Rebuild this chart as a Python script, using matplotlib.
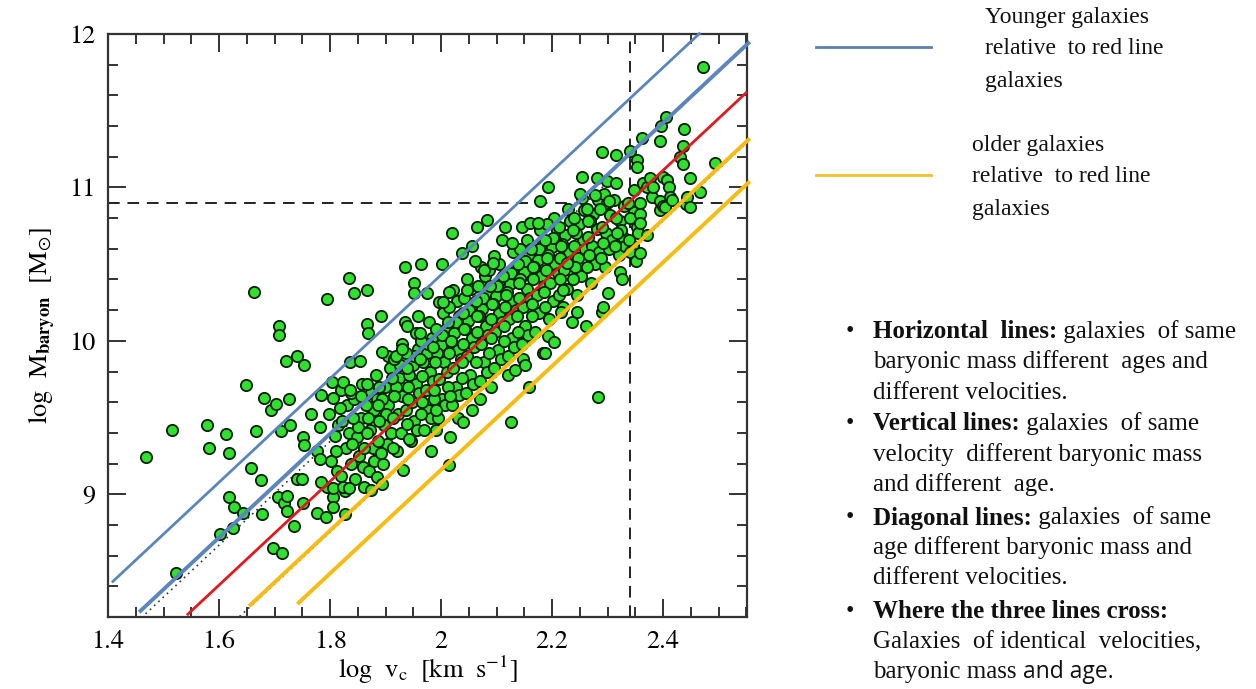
import matplotlib.pyplot as plt
from matplotlib.lines import Line2D
from matplotlib.ticker import MultipleLocator

plt.rcParams['mathtext.fontset'] = 'stix'
plt.rcParams['font.family'] = 'Liberation Serif'

# --- dados: log v_c , log M_baryon ---
# nuvem densa (estimada a olho)
core_pts = [
    (1.795, 9.05), (1.802, 9.22), (1.808, 9.38), (1.798, 9.52), (1.812, 9.15), (1.805, 9.63), (1.815, 9.45),
    (1.820, 9.12), (1.828, 9.30), (1.822, 9.48), (1.831, 9.58), (1.826, 9.02), (1.834, 9.40), (1.819, 9.68),
    (1.845, 9.10), (1.852, 9.25), (1.848, 9.37), (1.856, 9.50), (1.843, 9.62), (1.858, 9.72), (1.851, 9.44), (1.860, 9.18),
    (1.870, 9.15), (1.877, 9.30), (1.872, 9.42), (1.880, 9.55), (1.874, 9.66), (1.882, 9.78), (1.868, 9.50), (1.879, 9.22), (1.885, 9.62),
    (1.895, 9.20), (1.902, 9.33), (1.897, 9.45), (1.905, 9.58), (1.899, 9.70), (1.908, 9.82), (1.893, 9.62), (1.904, 9.90), (1.910, 9.40), (1.900, 9.52),
    (1.920, 9.28), (1.927, 9.40), (1.922, 9.52), (1.930, 9.64), (1.924, 9.76), (1.933, 9.88), (1.918, 9.70), (1.929, 9.98), (1.936, 9.55), (1.926, 9.84),
    (1.945, 9.35), (1.952, 9.48), (1.947, 9.60), (1.955, 9.72), (1.949, 9.84), (1.958, 9.95), (1.943, 9.78), (1.954, 10.05), (1.960, 9.66), (1.951, 9.90), (1.957, 9.42),
    (1.970, 9.42), (1.977, 9.55), (1.972, 9.68), (1.980, 9.80), (1.974, 9.92), (1.983, 10.02), (1.968, 9.86), (1.979, 10.12), (1.985, 9.74), (1.976, 9.98), (1.982, 9.50),
    (1.995, 9.50), (2.002, 9.62), (1.997, 9.75), (2.005, 9.86), (1.999, 9.97), (2.008, 10.08), (1.993, 9.92), (2.004, 10.18), (2.010, 9.80), (2.001, 10.04), (2.007, 9.58), (1.996, 10.25),
    (2.020, 9.58), (2.027, 9.70), (2.022, 9.82), (2.030, 9.94), (2.024, 10.05), (2.033, 10.16), (2.018, 10.00), (2.029, 10.26), (2.035, 9.88), (2.026, 10.12), (2.032, 9.65), (2.021, 10.33),
    (2.045, 9.66), (2.052, 9.78), (2.047, 9.90), (2.055, 10.02), (2.049, 10.13), (2.058, 10.24), (2.043, 10.08), (2.054, 10.34), (2.060, 9.96), (2.051, 10.20), (2.057, 9.72), (2.046, 10.40),
    (2.070, 9.74), (2.077, 9.86), (2.072, 9.98), (2.080, 10.10), (2.074, 10.21), (2.083, 10.32), (2.068, 10.16), (2.079, 10.42), (2.085, 10.04), (2.076, 10.28), (2.082, 9.80), (2.071, 10.48),
    (2.095, 9.82), (2.102, 9.94), (2.097, 10.06), (2.105, 10.18), (2.099, 10.29), (2.108, 10.40), (2.093, 10.24), (2.104, 10.50), (2.110, 10.12), (2.101, 10.36), (2.107, 9.88), (2.096, 10.55),
    (2.120, 9.90), (2.127, 10.02), (2.122, 10.14), (2.130, 10.26), (2.124, 10.37), (2.133, 10.48), (2.118, 10.32), (2.129, 10.58), (2.135, 10.20), (2.126, 10.44), (2.132, 9.96),
    (2.145, 9.98), (2.152, 10.10), (2.147, 10.22), (2.155, 10.34), (2.149, 10.45), (2.158, 10.56), (2.143, 10.40), (2.154, 10.66), (2.160, 10.28), (2.151, 10.52), (2.157, 10.04),
    (2.170, 10.06), (2.177, 10.18), (2.172, 10.30), (2.180, 10.42), (2.174, 10.53), (2.183, 10.64), (2.168, 10.48), (2.179, 10.72), (2.185, 10.36), (2.176, 10.60),
    (2.195, 10.14), (2.202, 10.26), (2.197, 10.38), (2.205, 10.50), (2.199, 10.61), (2.208, 10.72), (2.193, 10.56), (2.204, 10.80), (2.210, 10.44), (2.201, 10.67),
    (2.220, 10.22), (2.227, 10.34), (2.222, 10.46), (2.230, 10.58), (2.224, 10.69), (2.233, 10.78), (2.218, 10.63), (2.229, 10.86), (2.235, 10.52),
    (2.245, 10.30), (2.252, 10.42), (2.247, 10.54), (2.255, 10.66), (2.249, 10.76), (2.258, 10.85), (2.243, 10.70), (2.254, 10.93), (2.260, 10.60),
    (2.270, 10.38), (2.277, 10.50), (2.272, 10.62), (2.280, 10.73), (2.274, 10.83), (2.283, 10.92), (2.268, 10.78), (2.285, 10.58),
    (2.295, 10.48), (2.302, 10.60), (2.297, 10.70), (2.305, 10.82), (2.299, 10.90), (2.308, 10.66), (2.293, 10.96),
    (2.320, 10.56), (2.327, 10.68), (2.322, 10.78), (2.330, 10.88), (2.324, 10.72), (2.332, 10.62),
    (2.345, 10.62), (2.352, 10.74), (2.347, 10.84), (2.355, 10.70), (2.358, 10.90),
]

# mais pontos da nuvem, entre as colunas acima
core_pts_2 = [
    (1.811, 9.28), (1.817, 9.56), (1.806, 8.98),
    (1.838, 9.20), (1.841, 9.50), (1.839, 9.33), (1.837, 9.66),
    (1.862, 9.30), (1.864, 9.58), (1.861, 9.05), (1.866, 9.40),
    (1.887, 9.35), (1.889, 9.48), (1.888, 9.70), (1.891, 9.27), (1.886, 9.58),
    (1.913, 9.50), (1.915, 9.64), (1.912, 9.76), (1.914, 9.30), (1.916, 9.88),
    (1.938, 9.46), (1.940, 9.62), (1.939, 9.82), (1.941, 9.70), (1.937, 9.92), (1.942, 9.36),
    (1.963, 9.52), (1.965, 9.77), (1.962, 9.88), (1.966, 9.60), (1.964, 10.00),
    (1.987, 9.62), (1.989, 9.86), (1.988, 9.68), (1.991, 10.08), (1.986, 9.96), (1.990, 9.55),
    (2.013, 9.70), (2.015, 9.92), (2.012, 10.12), (2.016, 9.64), (2.014, 10.22),
    (2.038, 9.76), (2.040, 9.98), (2.039, 10.18), (2.041, 10.28), (2.037, 9.86), (2.042, 10.08),
    (2.063, 9.86), (2.065, 10.06), (2.062, 10.26), (2.066, 10.36), (2.064, 10.16),
    (2.087, 9.92), (2.089, 10.14), (2.088, 10.36), (2.091, 10.24), (2.086, 10.46), (2.090, 10.02),
    (2.113, 10.00), (2.115, 10.22), (2.112, 10.42), (2.116, 10.30), (2.114, 10.10),
    (2.138, 10.06), (2.140, 10.28), (2.139, 10.50), (2.141, 10.38), (2.137, 10.16), (2.142, 10.60),
    (2.163, 10.16), (2.165, 10.40), (2.162, 10.60), (2.166, 10.48), (2.164, 10.24),
    (2.187, 10.22), (2.189, 10.46), (2.188, 10.66), (2.191, 10.54), (2.186, 10.32), (2.190, 10.76),
    (2.213, 10.30), (2.215, 10.54), (2.212, 10.74), (2.216, 10.62), (2.214, 10.40),
    (2.238, 10.40), (2.240, 10.62), (2.239, 10.80), (2.241, 10.48), (2.237, 10.72),
    (2.263, 10.48), (2.265, 10.68), (2.262, 10.86), (2.266, 10.56), (2.264, 10.78),
    (2.288, 10.54), (2.289, 10.74), (2.287, 10.86), (2.291, 10.64),
    (2.313, 10.62), (2.315, 10.80), (2.312, 10.92), (2.316, 10.70),
    (2.338, 10.66), (2.340, 10.80), (2.337, 10.90), (2.341, 10.58),
]

# pontos isolados
outer_pts = [
    (1.468, 9.24), (1.515, 9.42), (1.522, 8.49), (1.578, 9.45), (1.582, 9.30), (1.602, 8.74), (1.613, 9.39),
    (1.618, 9.27), (1.618, 8.98), (1.627, 8.92), (1.625, 8.78), (1.643, 8.88), (1.649, 9.71), (1.658, 9.17),
    (1.663, 10.32), (1.667, 9.41), (1.676, 9.09), (1.677, 8.87), (1.681, 9.63), (1.694, 9.55), (1.697, 8.65),
    (1.703, 9.59), (1.706, 8.98), (1.708, 10.10), (1.708, 10.04), (1.712, 9.41), (1.713, 8.62), (1.717, 8.94),
    (1.721, 9.87), (1.722, 8.99), (1.722, 8.89), (1.726, 9.62), (1.728, 9.45), (1.735, 8.79), (1.741, 9.90),
    (1.741, 9.10), (1.750, 9.10), (1.751, 9.37), (1.751, 8.94), (1.753, 9.84), (1.753, 9.32), (1.766, 9.52),
    (1.777, 9.28), (1.777, 8.88), (1.782, 9.23), (1.782, 9.44), (1.784, 9.65), (1.784, 9.08), (1.793, 8.85),
    (1.795, 10.27), (1.803, 9.73), (1.805, 8.92), (1.805, 9.04), (1.823, 9.05), (1.823, 9.73), (1.827, 8.87),
    (1.834, 10.41), (1.834, 9.04), (1.836, 9.86), (1.836, 9.68), (1.843, 10.31), (1.854, 9.87), (1.856, 9.64),
    (1.866, 9.72), (1.867, 10.33), (1.867, 10.11), (1.868, 10.05), (1.874, 9.03), (1.885, 9.11), (1.892, 10.16),
    (1.894, 9.93), (1.894, 9.07), (1.919, 9.90), (1.930, 9.95), (1.932, 9.16), (1.935, 10.48), (1.935, 10.12),
    (1.939, 10.10), (1.951, 10.38), (1.951, 10.31), (1.958, 10.16), (1.962, 10.05), (1.964, 10.50), (1.975, 10.31),
    (1.982, 9.28), (1.990, 9.42), (2.002, 10.50), (2.004, 10.25), (2.014, 9.19), (2.015, 10.32), (2.016, 9.37),
    (2.020, 10.70), (2.031, 9.50), (2.038, 10.57), (2.040, 9.47), (2.047, 10.33), (2.056, 9.55), (2.056, 10.62),
    (2.061, 10.52), (2.065, 10.74), (2.070, 9.62), (2.077, 10.46), (2.083, 10.79), (2.090, 9.70), (2.094, 10.51),
    (2.110, 10.66), (2.115, 10.74), (2.120, 9.78), (2.126, 9.47), (2.128, 10.64), (2.133, 9.81), (2.146, 10.74),
    (2.148, 9.88), (2.151, 9.84), (2.159, 9.70), (2.160, 10.77), (2.175, 10.77), (2.178, 10.91), (2.184, 9.92),
    (2.187, 9.92), (2.193, 11.00), (2.193, 10.03), (2.204, 9.99), (2.216, 10.19), (2.220, 10.33), (2.227, 10.51),
    (2.236, 10.12), (2.245, 10.19), (2.250, 10.96), (2.254, 11.07), (2.261, 10.10), (2.278, 10.95), (2.281, 11.06),
    (2.283, 9.635), (2.290, 11.23), (2.290, 10.19), (2.292, 10.22), (2.299, 11.04), (2.300, 10.31), (2.303, 10.91),
    (2.315, 11.21), (2.315, 11.03), (2.322, 10.45), (2.326, 10.40), (2.340, 11.24), (2.348, 10.98), (2.351, 10.52),
    (2.353, 11.18), (2.353, 11.13), (2.359, 10.83), (2.359, 10.77), (2.359, 10.57), (2.362, 11.32), (2.364, 11.03),
    (2.371, 10.69), (2.371, 11.00), (2.377, 11.06), (2.380, 10.94), (2.382, 11.00), (2.395, 11.30), (2.395, 10.85),
    (2.395, 10.91), (2.396, 11.40), (2.400, 11.07), (2.400, 10.88), (2.404, 10.87), (2.405, 11.46), (2.407, 11.05),
    (2.410, 11.00), (2.413, 10.94), (2.416, 10.92), (2.431, 11.20), (2.436, 11.27), (2.436, 11.15), (2.438, 11.38),
    (2.441, 10.89), (2.443, 10.94), (2.449, 11.06), (2.449, 10.87), (2.467, 10.97), (2.472, 11.785), (2.494, 11.16),
]

# retas de mesma idade: log M = a + inclinacao*(log v - 2)
inclinacao = 3.38
retas_a  = [10.43, 10.07, 9.76, 9.44, 9.16]
retas_x0 = [1.407, 1.456, 1.542, 1.654, 1.741]
retas_x1 = [2.467, 2.556, 2.551, 2.556, 2.556]
retas_cor = ['#5b85bd', '#5b85bd', '#e01a1f', '#f7bb12', '#f7bb12']
retas_lw  = [2.0, 2.8, 2.0, 2.8, 2.8]

# retas pontilhadas originais (por baixo)
pont_a  = [10.02, 9.43]
pont_x0 = [1.460, 1.637]
pont_x1 = [2.300, 2.550]

v_corte = 2.34
m_corte = 10.9

# --- figura ---
fig = plt.figure(figsize=(12.56, 6.89), dpi=100)
ax = fig.add_axes([108/1256, 1 - 617/689, (747 - 108)/1256, (617 - 34)/689])

ax.axhline(m_corte, color='#222222', lw=1.4, dashes=(6, 4), zorder=1)
ax.axvline(v_corte, color='#222222', lw=1.4, dashes=(6, 4), zorder=1)

for a, x0, x1 in zip(pont_a, pont_x0, pont_x1):
    ax.plot([x0, x1], [a + inclinacao*(x0 - 2), a + inclinacao*(x1 - 2)],
            color='#333333', lw=1.2, ls=(0, (1, 2.5)), zorder=1)

todos = core_pts + core_pts_2 + outer_pts
ax.scatter([p[0] for p in todos], [p[1] for p in todos], s=66, c='#2fe02f',
           edgecolors='#0b200b', linewidths=1.3, zorder=2)

for a, x0, x1, cor, lw in zip(retas_a, retas_x0, retas_x1, retas_cor, retas_lw):
    ax.plot([x0, x1], [a + inclinacao*(x0 - 2), a + inclinacao*(x1 - 2)],
            color=cor, lw=lw, solid_capstyle='butt', clip_on=False, zorder=3)

ax.set_xlim(1.4, 2.551)
ax.set_ylim(8.2, 12)
ax.xaxis.set_minor_locator(MultipleLocator(0.05))
ax.yaxis.set_minor_locator(MultipleLocator(0.2))
ax.set_xticks([1.4, 1.6, 1.8, 2.0, 2.2, 2.4])
ax.set_xticklabels(['1.4', '1.6', '1.8', '2', '2.2', '2.4'])
ax.set_yticks([9, 10, 11, 12])
ax.set_yticklabels(['9', '10', '11', '12'])
ax.tick_params(which='both', direction='in', top=True, right=True, color='#333333', width=1.4)
ax.tick_params(which='major', length=13, pad=9, labelsize=19)
ax.tick_params(which='minor', length=7)
for lab in ax.get_xticklabels() + ax.get_yticklabels():
    lab.set_fontfamily('STIXGeneral')
for s in ax.spines.values():
    s.set_linewidth(1.6)
    s.set_color('#333333')

ax.set_xlabel(r'$\mathrm{log\ \ v_c\ \ [km\ \ s^{-1}]}$', fontsize=19, labelpad=0)
ax.set_ylabel(r'$\mathrm{log\ \ M_{\mathbf{baryon}}\ \ [M_{\odot}]}$', fontsize=19, labelpad=8)

# --- legenda manual ---
def fx(px):
    return px / 1256

def fy(py):
    return 1 - py / 689

fig.add_artist(Line2D([fx(816), fx(931)], [fy(47), fy(47)], color='#5b7fb3', lw=2))
fig.add_artist(Line2D([fx(816), fx(931)], [fy(175), fy(175)], color='#f5bf2a', lw=2))

leg1 = ['Younger galaxies', 'relative  to red line', 'galaxies']
leg2 = ['older galaxies', 'relative  to red line', 'galaxies']
for txt, py in zip(leg1, [17, 49, 81]):
    fig.text(fx(985), fy(py), txt, fontsize=17, va='center', ha='left', color='#111111')
for txt, py in zip(leg2, [145, 177, 209]):
    fig.text(fx(972), fy(py), txt, fontsize=17, va='center', ha='left', color='#111111')

# --- texto com marcadores ---
linhas = [
    ('Horizontal  lines:', ' galaxies  of same'),
    ('', 'baryonic mass different  ages and'),
    ('', 'different velocities.'),
    ('Vertical lines:', ' galaxies  of same'),
    ('', 'velocity  different baryonic mass'),
    ('', 'and different  age.'),
    ('Diagonal lines:', ' galaxies  of same'),
    ('', 'age different baryonic mass and'),
    ('', 'different velocities.'),
    ('Where the three lines cross:', ''),
    ('', 'Galaxies  of identical  velocities,'),
    ('', 'baryonic mass '),
]
linhas_y = [332, 362, 393, 424, 455, 485, 518, 548, 578, 612, 642, 672]

fig.canvas.draw()
rend = fig.canvas.get_renderer()
W = fig.bbox.width
for (negrito, normal), py in zip(linhas, linhas_y):
    x = fx(873)
    if negrito:
        fig.text(fx(850), fy(py), '\u2022', fontsize=17, va='center', ha='center', color='#111111')
        t = fig.text(x, fy(py), negrito, fontsize=18, weight='bold', va='center', color='#111111')
        x = t.get_window_extent(rend).x1 / W
    if normal:
        t = fig.text(x, fy(py), normal, fontsize=18, va='center', color='#111111')
        x = t.get_window_extent(rend).x1 / W
# final em fonte sem serifa, como no original
fig.text(x, fy(672), 'and age.', fontsize=16.5, family='Open Sans', va='center', color='#111111')

plt.savefig('out.png', dpi=100)
